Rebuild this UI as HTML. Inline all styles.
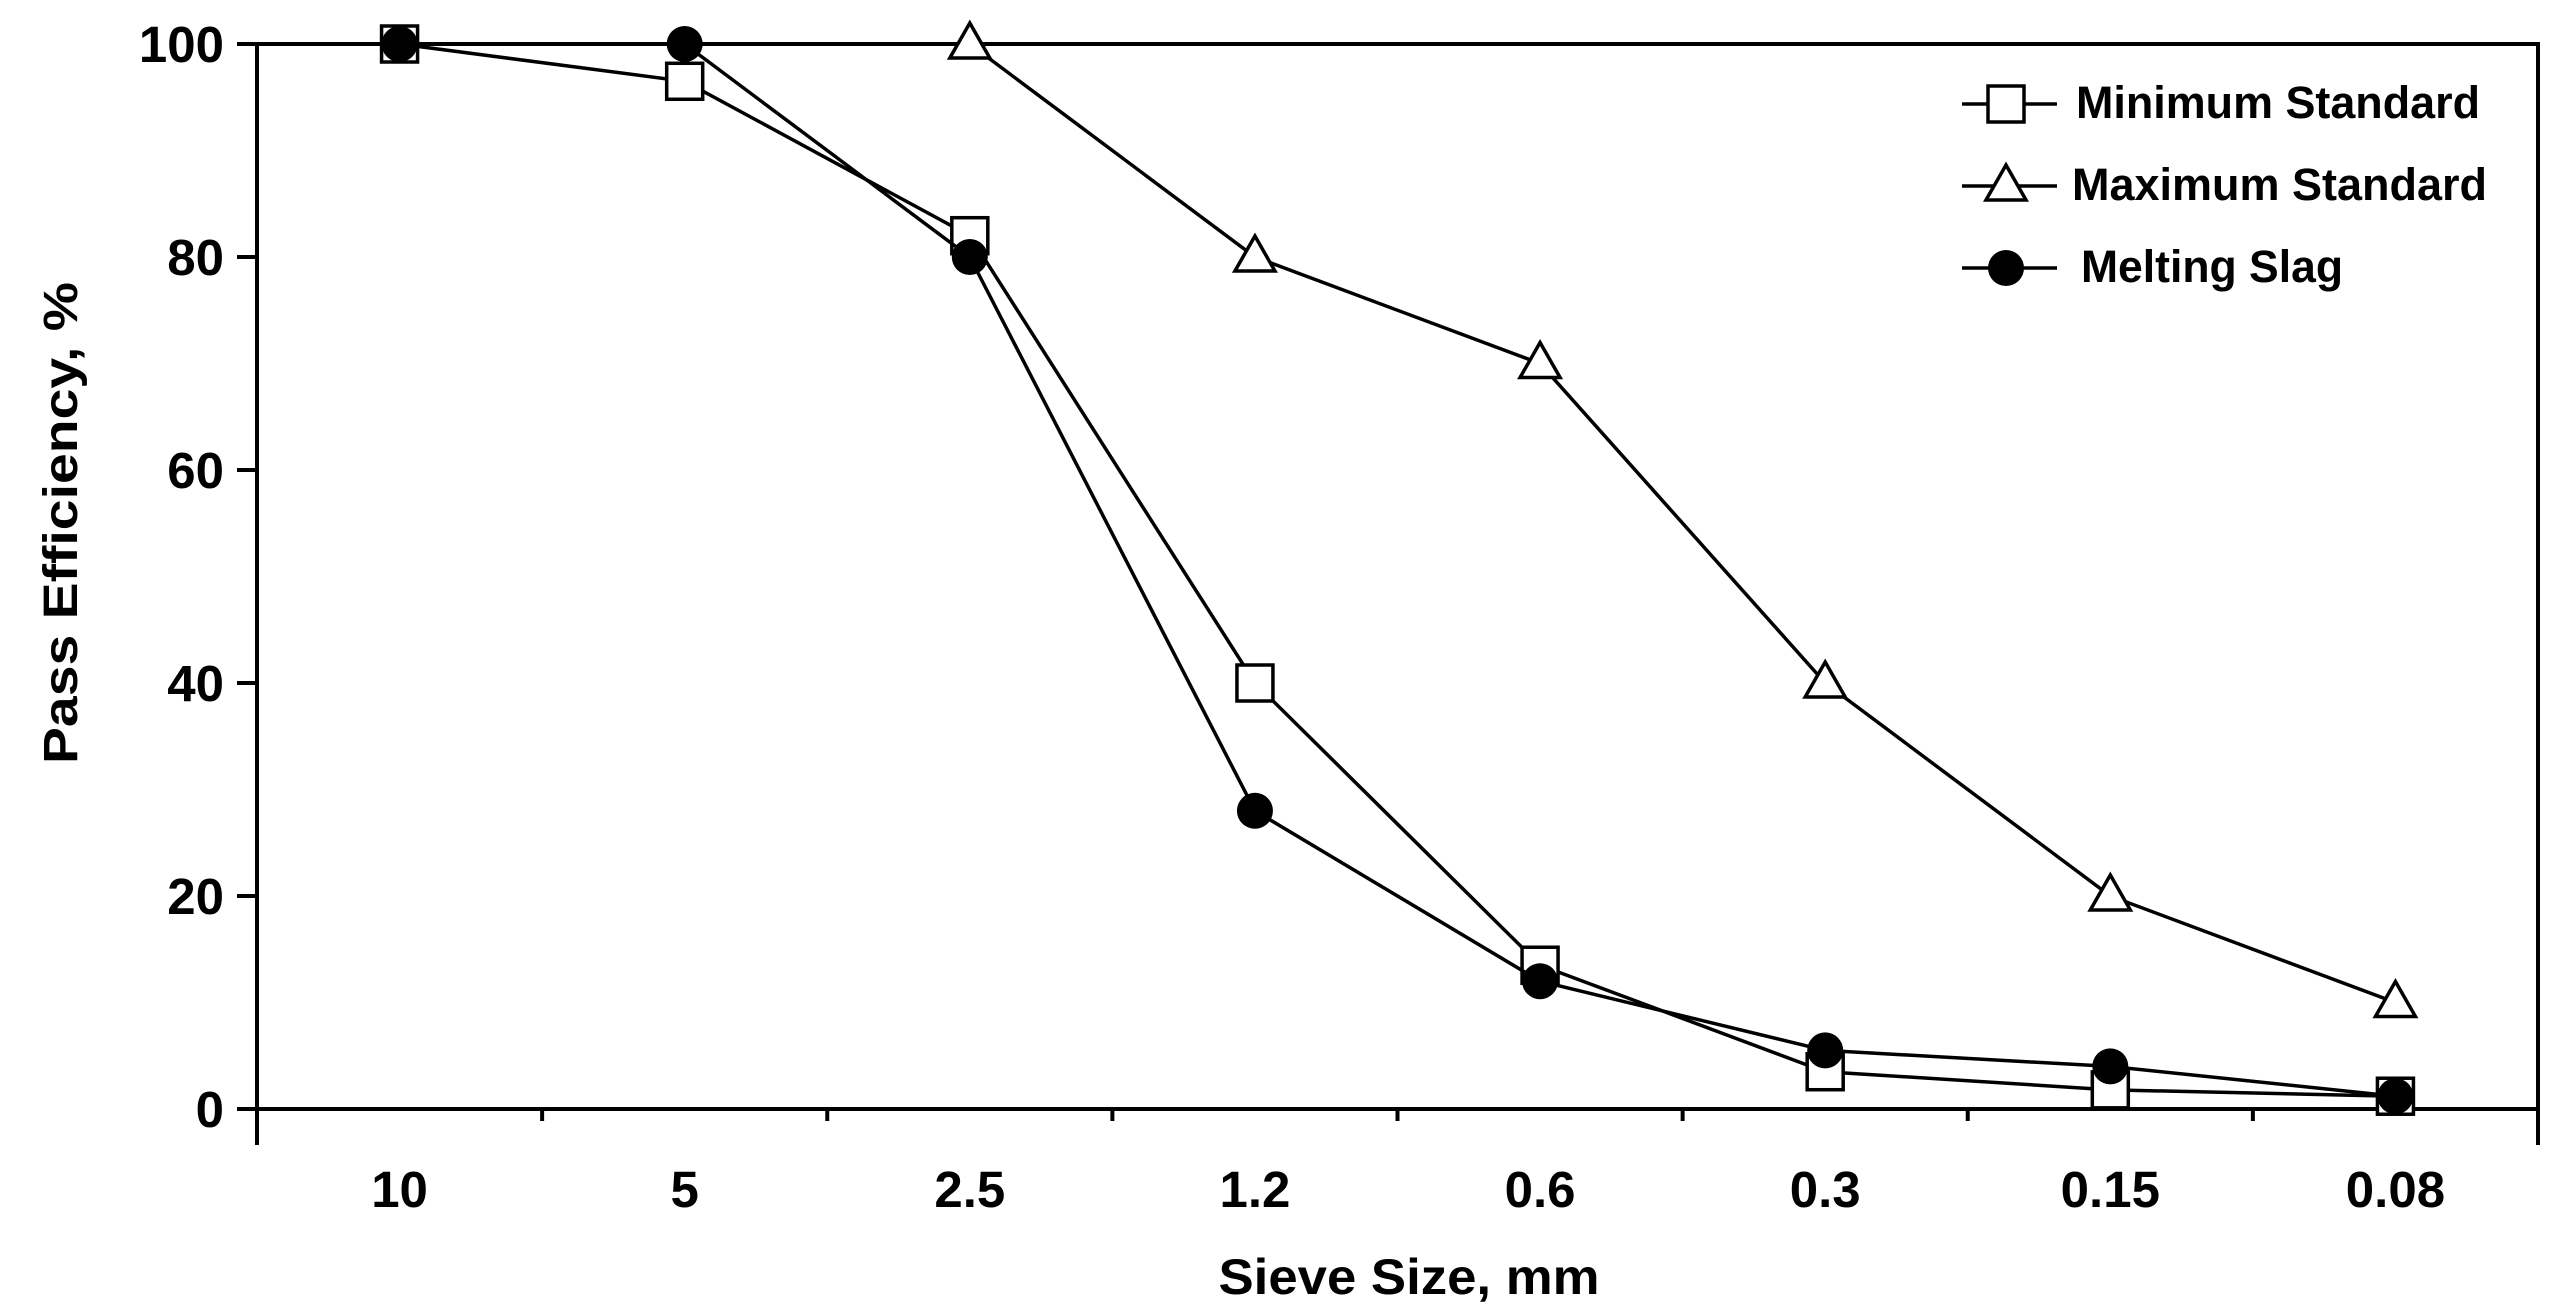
<!DOCTYPE html>
<html><head><meta charset="utf-8"><style>
html,body{margin:0;padding:0;background:#fff;}
svg{display:block;font-family:"Liberation Sans",Arial,sans-serif;font-weight:bold;}
</style></head><body>
<svg id="chart" width="2564" height="1310" viewBox="0 0 2564 1310" xmlns="http://www.w3.org/2000/svg"></svg>
<script>
const categories = ["10","5","2.5","1.2","0.6","0.3","0.15","0.08"];
const minStandard = [100, 96.5, 82, 40, 13.5, 3.5, 1.8, 1.2];
const maxStandard = [null, null, 100, 80, 70, 40, 20, 10];
const meltingSlag = [100, 100, 80, 28, 12, 5.5, 4, 1.2];
const yTicks = [0, 20, 40, 60, 80, 100];

const svg = document.getElementById('chart');
const NS = 'http://www.w3.org/2000/svg';
const L = 257, R = 2538, T = 44, B = 1109;
const slot = (R - L) / categories.length;
function xs(i){ return L + (i + 0.5) * slot; }
function ys(v){ return B - (v / 100) * (B - T); }
function mk(tag, attrs, parent){
  const e = document.createElementNS(NS, tag);
  for (const k in attrs) e.setAttribute(k, attrs[k]);
  (parent || svg).appendChild(e);
  return e;
}

const frame = mk('path', {d:`M${L} ${B+36} V${T} H${R} V${B+36} M${L} ${B} H${R}`, fill:'none', stroke:'#000', 'stroke-width':4});



yTicks.forEach(v => {
  const t = mk('line', {x1:L-20, x2:L, y1:ys(v), y2:ys(v), stroke:'#000', 'stroke-width':4});
  
  
  const lb = mk('text', {x:224, y:ys(v)+18, 'text-anchor':'end', 'font-size':51});
  lb.textContent = v;
  
  
});
for (let i = 1; i < categories.length; i++) {
  const x = L + i * slot;
  const t = mk('line', {x1:x, x2:x, y1:B, y2:B+12, stroke:'#000', 'stroke-width':4});
  
  
}
categories.forEach((c, i) => {
  const lb = mk('text', {x:xs(i), y:1207, 'text-anchor':'middle', 'font-size':51});
  lb.textContent = c;
  
  
});

const xt = mk('text', {x:1409, y:1294, 'text-anchor':'middle', 'font-size':50, textLength:381, lengthAdjust:'spacingAndGlyphs'});
xt.textContent = 'Sieve Size, mm';


const yt = mk('text', {x:0, y:0, 'text-anchor':'middle', 'font-size':48, textLength:482, lengthAdjust:'spacingAndGlyphs', transform:'translate(77 523) rotate(-90)'});
yt.textContent = 'Pass Efficiency, %';



function marker(type, cx, cy, parent){
  let e;
  if (type === 'square') e = mk('rect', {x:cx-18, y:cy-18, width:36, height:36, fill:'#fff', stroke:'#000', 'stroke-width':3.5}, parent);
  else if (type === 'triangle') e = mk('polygon', {points:`${cx},${cy-21} ${cx+20},${cy+14} ${cx-20},${cy+14}`, fill:'#fff', stroke:'#000', 'stroke-width':3.5}, parent);
  else e = mk('circle', {cx:cx, cy:cy, r:18, fill:'#000'}, parent);
  return e;
}
function series(vals, type, name){
  const g = mk('g', {});
  
  
  const pts = [];
  vals.forEach((v, i) => { if (v !== null) pts.push([xs(i), ys(v)]); });
  const pl = mk('polyline', {points: pts.map(p => p.join(',')).join(' '), fill:'none', stroke:'#000', 'stroke-width':3.5}, g);
  
  
  pts.forEach(p => {
    const m = marker(type, p[0], p[1], g);
    
    
  });
}
series(minStandard, 'square', 'minimum-standard');
series(maxStandard, 'triangle', 'maximum-standard');
series(meltingSlag, 'circle', 'melting-slag');

const legendItems = [
  ['Minimum Standard', 'square', 104, 2076, 404],
  ['Maximum Standard', 'triangle', 186, 2072, 415],
  ['Melting Slag', 'circle', 268, 2081, 262]
];
legendItems.forEach(it => {
  const g = mk('g', {});
  
  
  mk('line', {x1:1962, x2:2057, y1:it[2], y2:it[2], stroke:'#000', 'stroke-width':3.5}, g);
  marker(it[1], 2006, it[2], g);
  const t = mk('text', {x:it[3], y:it[2]+14, 'font-size':45, textLength:it[4], lengthAdjust:'spacingAndGlyphs'}, g);
  t.textContent = it[0];
  
  
});
</script>
</body></html>
